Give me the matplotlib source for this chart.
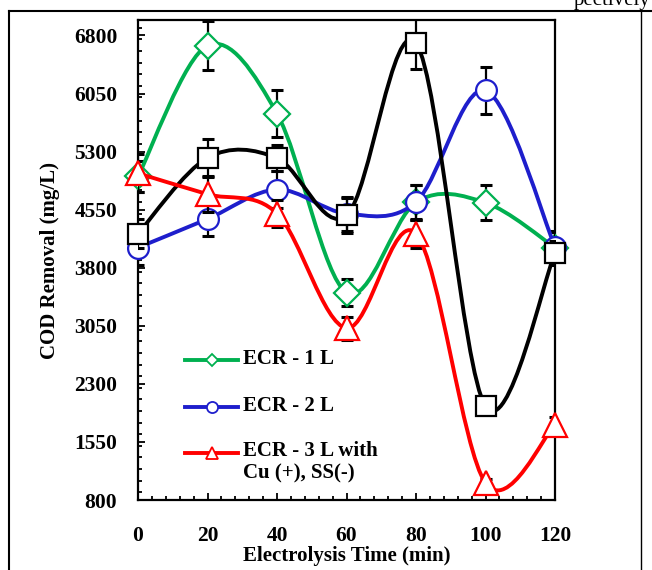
import matplotlib.pyplot as plt
import numpy as np
from matplotlib.path import Path
from matplotlib.patches import PathPatch
from matplotlib.lines import Line2D
from matplotlib.ticker import MultipleLocator

plt.rcParams['font.family'] = 'Liberation Serif'
plt.rcParams['font.weight'] = 'bold'

# время электролиза, мин
t = [0, 20, 40, 60, 80, 100, 120]

# ХПК, мг/л  и погрешности
ecr1 = [4980, 6670, 5790, 3480, 4645, 4640, 4060]
ecr1_err = [200, 320, 300, 175, 225, 225, 200]
ecr2 = [4060, 4430, 4810, 4500, 4650, 6090, 4070]
ecr2_err = [230, 220, 240, 220, 225, 300, 200]
ecr_b = [4240, 5220, 5215, 4475, 6700, 2010, 3990]
ecr_b_err = [190, 245, 170, 220, 330, 100, 150]
ecr3 = [5020, 4750, 4500, 3020, 4240, 1020, 1770]
ecr3_err = [245, 230, 180, 150, 180, 50, 100]

labels = ['ECR - 1 L', 'ECR - 2 L', 'ECR - 3 L with\nCu (+), SS(-)']


def smooth_path(x, y):
    # сглаживание как в Excel (Безье, 1/6)
    x = np.asarray(x, float)
    y = np.asarray(y, float)
    px = np.concatenate([[x[0]], x, [x[-1]]])
    py = np.concatenate([[y[0]], y, [y[-1]]])
    verts = [(x[0], y[0])]
    codes = [Path.MOVETO]
    for i in range(1, len(x)):
        c1 = (px[i] + (px[i + 1] - px[i - 1]) / 6, py[i] + (py[i + 1] - py[i - 1]) / 6)
        c2 = (px[i + 1] - (px[i + 2] - px[i]) / 6, py[i + 1] - (py[i + 2] - py[i]) / 6)
        verts += [c1, c2, (px[i + 1], py[i + 1])]
        codes += [Path.CURVE4] * 3
    return Path(verts, codes)


fig = plt.figure(figsize=(6.52, 5.70), dpi=100)
ax = fig.add_axes([0.2117, 0.1228, 0.6396, 0.8421])

series = [
    (ecr1, ecr1_err, '#00B050', 'D', 13.7),
    (ecr2, ecr2_err, '#1E1ECC', 'o', 15),
    (ecr_b, ecr_b_err, 'black', 's', 13.7),
    (ecr3, ecr3_err, '#FF0000', '^', 17),
]

z = 3
for vals, err, col, mk, ms in series:
    ax.errorbar(t, vals, yerr=err, fmt='none', ecolor='black', elinewidth=1.6,
                capsize=4.5, capthick=2.2, zorder=z)
    ax.add_patch(PathPatch(smooth_path(t, vals), fill=False, edgecolor=col,
                           lw=2.8, zorder=z + 0.1))
    ax.plot(t, vals, linestyle='none', marker=mk, ms=ms, mfc='white', mec=col,
            mew=1.6, zorder=z + 0.2, clip_on=False)
    z += 1

# легенда вручную
leg_y = [0.2917, 0.1938, 0.0979]
leg_style = [('#00B050', 'D', 6), ('#1E1ECC', 'o', 8), ('#FF0000', '^', 8)]
for (c, m, s), yy, lab in zip(leg_style, leg_y, labels):
    ax.plot([0.1127, 0.2398], [yy, yy], color=c, lw=2.8, transform=ax.transAxes,
            zorder=8)
    ax.plot([0.1775], [yy], marker=m, ms=s, mfc='white', mec=c, mew=1.3,
            transform=ax.transAxes, zorder=9)
    if '\n' in lab:
        ax.text(0.2518, yy + 0.026, lab, transform=ax.transAxes, fontsize=15,
                fontweight='bold', va='top', ha='left', linespacing=1.2, zorder=9)
    else:
        ax.text(0.2518, yy + 0.003, lab, transform=ax.transAxes, fontsize=15,
                fontweight='bold', va='center', ha='left', zorder=9)

ax.set_xlim(0, 120)
ax.set_ylim(800, 7000)
ax.set_xticks(t)
ax.set_yticks([800, 1550, 2300, 3050, 3800, 4550, 5300, 6050, 6800])
ax.xaxis.set_minor_locator(MultipleLocator(4))
ax.yaxis.set_minor_locator(MultipleLocator(150))
ax.tick_params(which='both', direction='in', top=False, right=False,
               labelsize=15.5, width=1.3)
ax.tick_params(axis='x', which='major', length=5, pad=19)
ax.tick_params(axis='y', which='major', length=5, pad=15)
ax.tick_params(which='minor', length=3)
for sp in ax.spines.values():
    sp.set_linewidth(1.6)

ax.set_xlabel('Electrolysis Time (min)', fontsize=15, fontweight='bold', labelpad=0)
ax.set_ylabel('COD Removal (mg/L)', fontsize=15, fontweight='bold', labelpad=10)

# рамка ячейки документа
fig.add_artist(Line2D([0.0138, 1.0], [0.981, 0.981], color='black', lw=1.5,
                      transform=fig.transFigure))
fig.add_artist(Line2D([0.0138, 0.0138], [0.0, 0.981], color='black', lw=1.5,
                      transform=fig.transFigure))
fig.add_artist(Line2D([0.983, 0.983], [0.0, 0.981], color='black', lw=1.0,
                      transform=fig.transFigure))
fig.text(0.997, 0.991, 'pectively', ha='right', va='baseline', fontsize=15,
         fontweight='normal')

fig.savefig('out.png', dpi=100)
